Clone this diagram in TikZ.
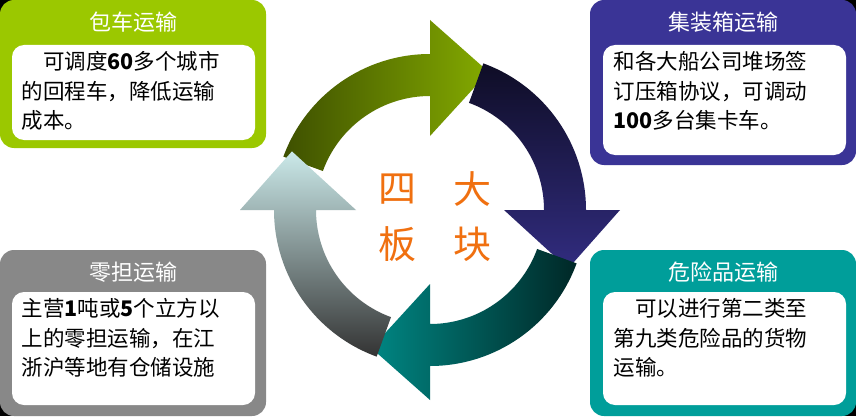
\documentclass[tikz,border=0pt]{standalone}
\usepackage{fontspec}
\setmainfont{Noto Sans CJK SC}
\definecolor{cgreen}{RGB}{155,200,0}
\definecolor{cnavy}{RGB}{58,52,150}
\definecolor{cgray}{RGB}{136,136,136}
\definecolor{cteal}{RGB}{0,158,154}
\definecolor{corange}{RGB}{240,112,16}
\tikzset{
  card/.style={rounded corners=14pt},
  inbox/.style={fill=white,rounded corners=12pt},
  title/.style={text=white,font=\fontsize{22}{25}\selectfont},
  body/.style={align=left,font=\fontsize{21.5}{29.5}\selectfont},
  big/.style={text=corange,font=\fontsize{38}{40}\selectfont}
}
\newcommand\ringarrow[3]{% base angle, dark, light
  \shade[left color=#2,right color=#3,shading angle=#1]
    (430,206) ++(#1+70:156) arc[start angle=#1+70,end angle=#1,radius=156]
    -- ++(#1:34) -- ($(430,206)+(#1-23:150)$) -- ($(430,206)+(#1:74)$)
    -- ($(430,206)+(#1:114)$) arc[start angle=#1,end angle=#1+70,radius=114] -- cycle;}
\usetikzlibrary{calc}
\begin{document}
\begin{tikzpicture}[x=1pt,y=1pt]
\useasboundingbox (0,0) rectangle (856,416);
\fill[white] (0,0) rectangle (856,416);
% corners
\fill[black] (0,0) rectangle (16,16);
\fill[black] (0,400) rectangle (16,416);
\fill[black] (840,0) rectangle (856,16);
\fill[black] (840,400) rectangle (856,416);
% cards
\fill[card,cgreen] (0,268) rectangle (266,416);
\fill[inbox] (12,276) rectangle (255,371);
\node[title] (t1) at (133,394) {包车运输};
\node[body,anchor=north west] (b1) at (18,368) {\quad 可调度\textbf{60}多个城市\\的回程车，降低运输\\成本。};
\fill[card,cnavy] (590,251) rectangle (856,416);
\fill[inbox] (603,261) rectangle (846,371);
\node[title] (t2) at (723,394) {集装箱运输};
\node[body,anchor=north west] (b2) at (610,368) {和各大船公司堆场签\\订压箱协议，可调动\\\textbf{100}多台集卡车。};
\fill[card,cgray] (0,0) rectangle (266,166);
\fill[inbox] (12,11) rectangle (255,124);
\node[title] (t3) at (133,144) {零担运输};
\node[body,anchor=north west] (b3) at (18,121) {主营\textbf{1}吨或\textbf{5}个立方以\\上的零担运输，在江\\浙沪等地有仓储设施};
\fill[card,cteal] (590,0) rectangle (856,166);
\fill[inbox] (603,11) rectangle (846,124);
\node[title] (t4) at (723,144) {危险品运输};
\node[body,anchor=north west] (b4) at (610,121) {\quad 可以进行第二类至\\第九类危险品的货物\\运输。};
% ring
\ringarrow{90}{black!60!cgreen}{cgreen!85!black}
\ringarrow{0}{black!75!cnavy}{cnavy!85!black}
\ringarrow{-90}{black!75!cteal}{cteal!85!black}
\ringarrow{180}{black!80}{cgray!60!cyan!30!white}
\node[big] (s1) at (397,227) {四};
\node[big] (s2) at (472,227) {大};
\node[big] (s3) at (397,172) {板};
\node[big] (s4) at (472,172) {块};
\end{tikzpicture}
\end{document}
